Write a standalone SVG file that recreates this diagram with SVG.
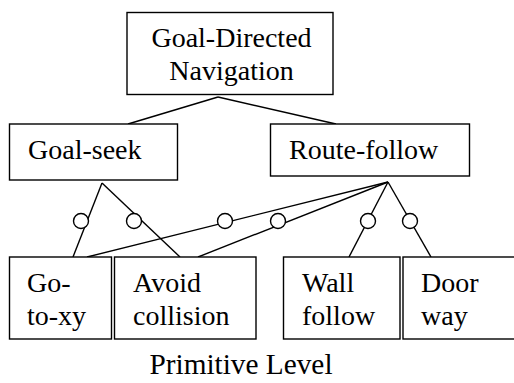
<svg xmlns="http://www.w3.org/2000/svg" width="514" height="383" viewBox="0 0 514 383">
<style>
.box{fill:#fff;stroke:#000;stroke-width:1.4}
text{font-family:'Liberation Serif','Times New Roman',serif;font-size:28px;fill:#000}
.m{text-anchor:middle}
.ln{stroke:#000;stroke-width:1.4;fill:none}
.c{fill:#fff;stroke:#000;stroke-width:1.4}
</style>
<rect width="514" height="383" fill="#fff"/>
<g id="connectors">
<line class="ln" x1="218" y1="97" x2="128" y2="124"/>
<line class="ln" x1="218" y1="97" x2="336" y2="124"/>
<line class="ln" x1="102" y1="183" x2="73" y2="257"/>
<line class="ln" x1="102" y1="183" x2="180" y2="257"/>
<line class="ln" x1="388" y1="182" x2="87" y2="257"/>
<line class="ln" x1="388" y1="182" x2="198" y2="257"/>
<line class="ln" x1="388" y1="182" x2="349" y2="257"/>
<line class="ln" x1="388" y1="182" x2="431" y2="257"/>
<circle class="c" cx="81" cy="221" r="7.5"/>
<circle class="c" cx="134" cy="221" r="7.5"/>
<circle class="c" cx="225" cy="221" r="7.5"/>
<circle class="c" cx="278" cy="221" r="7.5"/>
<circle class="c" cx="368" cy="221" r="7.5"/>
<circle class="c" cx="410" cy="221" r="7.5"/>
</g>
<g id="goal-directed">
<rect class="box" x="127" y="12.5" width="206" height="82"/>
<text class="m" x="231.5" y="47">Goal-Directed</text>
<text class="m" x="231.5" y="80">Navigation</text>
</g>
<g id="goal-seek">
<rect class="box" x="9.5" y="124" width="168" height="56"/>
<text x="28" y="159">Goal-seek</text>
</g>
<g id="route-follow">
<rect class="box" x="270.5" y="124" width="199" height="52"/>
<text x="289" y="159">Route-follow</text>
</g>
<g id="go-to-xy">
<rect class="box" x="9.5" y="257" width="102" height="82"/>
<text x="27" y="292">Go-</text>
<text x="27" y="325">to-xy</text>
</g>
<g id="avoid-collision">
<rect class="box" x="114.5" y="257" width="141.5" height="82"/>
<text x="133" y="292">Avoid</text>
<text x="133" y="325">collision</text>
</g>
<g id="wall-follow">
<rect class="box" x="283.5" y="257" width="116.5" height="82"/>
<text x="302" y="292">Wall</text>
<text x="302" y="325">follow</text>
</g>
<g id="door-way">
<rect class="box" x="403" y="257" width="120" height="82"/>
<text x="421" y="292">Door</text>
<text x="421" y="325">way</text>
</g>
<text class="m" x="241" y="374" style="font-size:29.3px">Primitive Level</text>
</svg>
